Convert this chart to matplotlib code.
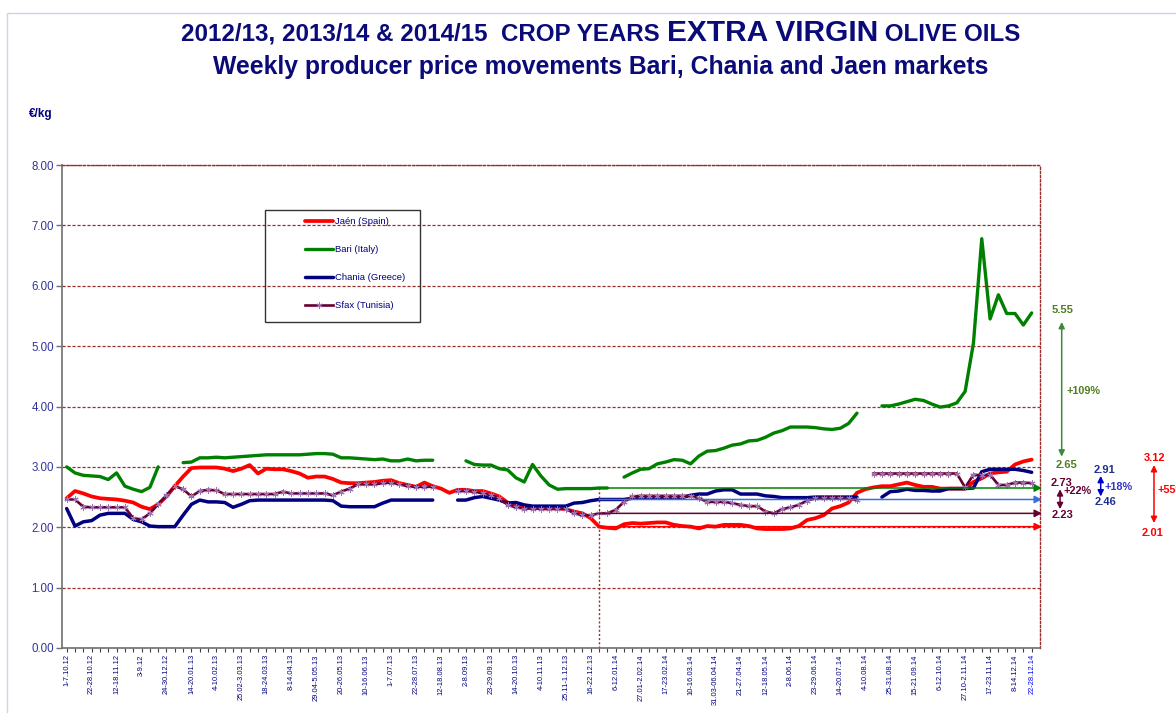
import matplotlib
matplotlib.use("Agg")
import matplotlib.pyplot as plt
import matplotlib.transforms as mtransforms
from matplotlib.offsetbox import TextArea, HPacker, AnnotationBbox
from matplotlib.patches import Rectangle
import numpy as np

plt.rcParams['font.family'] = ['Liberation Sans', 'DejaVu Sans']

NAVY = '#000080'
TITLE_COLOR = '#0A0A78'
GRID_COLOR = '#9B2C2C'

# weekly producer prices (EUR/kg), week 0 = 1-7.10.12 ... week 116 = 22-28.12.14
# None = no quotation that week
jaen = [2.48, 2.60, 2.56, 2.51, 2.48, 2.47, 2.46, 2.44, 2.41, 2.34,
        2.30, 2.38, 2.51, 2.68, 2.84, 2.98, 2.99, 2.99, 2.99, 2.97,
        2.93, 2.97, 3.03, 2.89, 2.97, 2.96, 2.96, 2.93, 2.89, 2.82,
        2.84, 2.84, 2.80, 2.74, 2.73, 2.73, 2.74, 2.75, 2.77, 2.78,
        2.73, 2.70, 2.67, 2.74, 2.68, 2.64, 2.57, 2.62, 2.62, 2.60,
        2.60, 2.56, 2.51, 2.41, 2.35, 2.33, 2.33, 2.31, 2.31, 2.31,
        2.30, 2.26, 2.23, 2.15, 2.01, 1.99, 1.98, 2.05, 2.07, 2.06,
        2.07, 2.08, 2.08, 2.04, 2.02, 2.01, 1.98, 2.02, 2.01, 2.04,
        2.04, 2.04, 2.02, 1.98, 1.97, 1.97, 1.97, 1.98, 2.02, 2.12,
        2.15, 2.20, 2.31, 2.35, 2.41, 2.57, 2.63, 2.66, 2.68, 2.68,
        2.71, 2.74, 2.70, 2.67, 2.67, 2.64, 2.64, 2.64, 2.64, 2.75,
        2.81, 2.89, 2.91, 2.92, 3.04, 3.09, 3.12]

bari = [3.00, 2.90, 2.86, 2.85, 2.84, 2.79, 2.90, 2.68, 2.63, 2.59,
        2.66, 3.00, None, None, 3.07, 3.08, 3.15, 3.15, 3.16, 3.15,
        3.16, 3.17, 3.18, 3.19, 3.20, 3.20, 3.20, 3.20, 3.20, 3.21,
        3.22, 3.22, 3.21, 3.15, 3.15, 3.14, 3.13, 3.12, 3.13, 3.10,
        3.10, 3.13, 3.10, 3.11, 3.11, None, None, None, 3.10, 3.04,
        3.03, 3.03, 2.97, 2.95, 2.82, 2.75, 3.04, 2.85, 2.70, 2.63,
        2.64, 2.64, 2.64, 2.64, 2.65, 2.65, None, 2.83, 2.90, 2.96,
        2.97, 3.05, 3.08, 3.12, 3.11, 3.05, 3.18, 3.26, 3.27, 3.31,
        3.36, 3.38, 3.43, 3.44, 3.49, 3.56, 3.60, 3.66, 3.66, 3.66,
        3.65, 3.63, 3.62, 3.64, 3.72, 3.89, None, None, 4.01, 4.01,
        4.04, 4.08, 4.12, 4.10, 4.04, 3.99, 4.01, 4.06, 4.25, 5.05,
        6.78, 5.45, 5.85, 5.54, 5.54, 5.35, 5.55]

chania = [2.31, 2.02, 2.09, 2.11, 2.20, 2.23, 2.23, 2.23, 2.13, 2.09,
          2.02, 2.01, 2.01, 2.01, 2.20, 2.38, 2.45, 2.42, 2.42, 2.41,
          2.33, 2.38, 2.44, 2.45, 2.45, 2.45, 2.45, 2.45, 2.45, 2.45,
          2.45, 2.45, 2.44, 2.35, 2.34, 2.34, 2.34, 2.34, 2.40, 2.45,
          2.45, 2.45, 2.45, 2.45, 2.45, None, None, 2.45, 2.45, 2.49,
          2.51, 2.48, 2.45, 2.40, 2.41, 2.37, 2.35, 2.35, 2.35, 2.35,
          2.35, 2.40, 2.41, 2.44, 2.46, 2.46, 2.46, 2.46, 2.48, 2.49,
          2.49, 2.49, 2.49, 2.49, 2.49, 2.53, 2.55, 2.55, 2.60, 2.62,
          2.62, 2.55, 2.55, 2.55, 2.52, 2.51, 2.49, 2.49, 2.49, 2.49,
          2.50, 2.50, 2.50, 2.50, 2.50, 2.50, None, None, 2.50, 2.59,
          2.60, 2.63, 2.61, 2.61, 2.60, 2.60, 2.64, 2.64, 2.64, 2.65,
          2.92, 2.96, 2.96, 2.96, 2.96, 2.94, 2.91]

sfax = [2.46, 2.46, 2.34, 2.33, 2.33, 2.33, 2.33, 2.33, 2.15, 2.13,
        2.23, 2.38, 2.53, 2.68, 2.63, 2.51, 2.60, 2.62, 2.61, 2.55,
        2.55, 2.55, 2.55, 2.55, 2.55, 2.55, 2.59, 2.56, 2.56, 2.56,
        2.56, 2.56, 2.53, 2.59, 2.64, 2.71, 2.71, 2.71, 2.73, 2.74,
        2.71, 2.68, 2.67, 2.67, 2.67, None, None, 2.60, 2.60, 2.59,
        2.56, 2.53, 2.48, 2.37, 2.33, 2.31, 2.31, 2.31, 2.31, 2.31,
        2.31, 2.23, 2.20, 2.20, 2.23, 2.23, 2.29, 2.42, 2.51, 2.52,
        2.52, 2.52, 2.52, 2.52, 2.52, 2.52, 2.48, 2.42, 2.42, 2.42,
        2.40, 2.37, 2.35, 2.35, 2.26, 2.23, 2.30, 2.33, 2.37, 2.44,
        2.48, 2.49, 2.49, 2.49, 2.48, 2.45, None, 2.89, 2.89, 2.89,
        2.89, 2.89, 2.89, 2.89, 2.89, 2.89, 2.89, 2.89, 2.66, 2.87,
        2.86, 2.87, 2.70, 2.70, 2.74, 2.74, 2.73]

series_names = ['Jaén (Spain)', 'Bari (Italy)', 'Chania (Greece)', 'Sfax (Tunisia)']
series_colors = ['#FF0000', '#008000', '#000080', '#660033']
ref_colors = ['#FF0000', '#008000', '#3C6FD8', '#660033']

week_labels = ['1-7.10.12', '22-28.10.12', '12-18.11.12', '3-9.12', '24-30.12.12',
               '14-20.01.13', '4-10.02.13', '25.02-3.03.13', '18-24.03.13', '8-14.04.13',
               '29.04-5.05.13', '20-26.05.13', '10-16.06.13', '1-7.07.13', '22-28.07.13',
               '12-18.08.13', '2-8.09.13', '23-29.09.13', '14-20.10.13', '4-10.11.13',
               '25.11-1.12.13', '16-22.12.13', '6-12.01.14', '27.01-2.02.14', '17-23.02.14',
               '10-16.03.14', '31.03-06.04.14', '21-27.04.14', '12-18.05.14', '2-8.06.14',
               '23-29.06.14', '14-20.07.14', '4-10.08.14', '25-31.08.14', '15-21.09.14',
               '6-12.10.14', '27.10-2.11.14', '17-23.11.14', '8-14.12.14', '22-28.12.14']

# week where the comparison starts (23-29.12.13)
base_week = 64

fig = plt.figure(figsize=(11.76, 7.13), dpi=100)
ax = fig.add_axes([62.5 / 1176, 1 - 648 / 713, 977.5 / 1176, 483 / 713])

weeks = np.arange(len(jaen))
all_series = [jaen, bari, chania, sfax]
widths = [2.7, 2.4, 2.5, 1.9]
handles = []
for vals, name, color, lw in zip(all_series, series_names, series_colors, widths):
    y = np.array(vals, dtype=float)
    if name.startswith('Sfax'):
        ln, = ax.plot(weeks, y, color=color, lw=lw, marker=(6, 2, 0), markersize=4.5,
                      markeredgecolor='#A070B0', markeredgewidth=0.7, label=name)
    else:
        ln, = ax.plot(weeks, y, color=color, lw=lw, solid_capstyle='round', label=name)
    handles.append(ln)

ax.set_xlim(-0.5, 117)
ax.set_ylim(0, 8)

# grid + frame
ax.set_yticks(np.arange(0, 9, 1))
ax.set_yticklabels([f'{v:.2f}' for v in np.arange(0, 9, 1)])
ax.grid(axis='y', color=GRID_COLOR, ls=(0, (2.5, 1.5)), lw=0.9)
ax.set_axisbelow(True)
for side in ['left', 'bottom']:
    ax.spines[side].set_color('#707070')
    ax.spines[side].set_linewidth(1.2)
for side in ['top', 'right']:
    ax.spines[side].set_color(GRID_COLOR)
    ax.spines[side].set_linestyle((0, (1.5, 1.5)))
    ax.spines[side].set_linewidth(1)
ax.vlines(base_week, 0, bari[base_week], colors=GRID_COLOR, linestyles=(0, (1.5, 1.5)), lw=1)

ax.tick_params(axis='y', direction='out', length=4, width=1, color='#707070',
               labelsize=8.3, labelcolor='#333399', pad=2)
label_weeks = list(range(0, 115, 3)) + [116]
ax.set_xticks(label_weeks)
ax.set_xticklabels(week_labels, rotation=90, fontsize=5.4, color=NAVY, va='top')
ax.xaxis.get_ticklabels()[-1].set_color('#0000FF')
ax.set_xticks(weeks, minor=True)
ax.tick_params(axis='x', which='both', direction='out', length=3, width=0.8,
               color='#404040', pad=1.5)

# legend: contents from matplotlib, frame drawn as a plain box
ax.legend(handles, series_names, loc='upper left', bbox_to_anchor=(0.2477, 0.892),
          frameon=False, fontsize=6.8, handlelength=3.0, handletextpad=0.25,
          labelspacing=2.0, borderpad=0, borderaxespad=0, labelcolor=NAVY, numpoints=1)
ax.add_patch(Rectangle((0.2068, 0.675), 0.1586, 0.2318, transform=ax.transAxes,
                       fill=False, edgecolor='#333333', lw=1, zorder=5))

# reference levels at the base week, with arrows to the right edge
for vals, color in zip(all_series, ref_colors):
    ax.annotate('', xy=(117.24, vals[base_week]), xytext=(base_week, vals[base_week]),
                arrowprops=dict(arrowstyle='-|>', color=color, lw=1.1, mutation_scale=11,
                                shrinkA=0, shrinkB=0),
                annotation_clip=False)

# change annotations to the right of the plot
trans = mtransforms.blended_transform_factory(ax.transAxes, ax.transData)
notes = [
    # series, text colour, arrow colour, x arrow, y top, y bottom, (x,y) end, (x,y) pct, (x,y) start
    (bari, '#4F7F1F', '#3A8A3A', 1.0222, 5.40, 3.17, (1.0235, 5.60), (1.0276, 4.26), (1.0276, 3.03)),
    (sfax, '#660033', '#660033', 1.0205, 2.63, 2.30, (1.0225, 2.74), (1.0245, 2.60), (1.0235, 2.20)),
    (chania, '#1F2F8F', '#0000CC', 1.0621, 2.85, 2.51, (1.0655, 2.94), (1.0655, 2.67), (1.0665, 2.41)),
    (jaen, '#FF0000', '#FF0000', 1.1166, 3.03, 2.07, (1.1177, 3.15), (1.1207, 2.61), (1.1156, 1.90)),
]
for vals, tcol, acol, xa, ytop, ybot, p_end, p_pct, p_start in notes:
    start, end = vals[base_week], vals[-1]
    pct = round((end / start - 1) * 100)
    ax.annotate('', xy=(xa, ytop), xytext=(xa, ybot), xycoords=trans, textcoords=trans,
                arrowprops=dict(arrowstyle='<|-|>', color=acol, lw=1.1, mutation_scale=9,
                                shrinkA=0, shrinkB=0),
                annotation_clip=False)
    ax.text(*p_end, f'{end:.2f}', transform=trans, ha='center', va='center',
            fontsize=8, fontweight='bold', color=tcol, clip_on=False)
    ax.text(*p_start, f'{start:.2f}', transform=trans, ha='center', va='center',
            fontsize=8, fontweight='bold', color=tcol, clip_on=False)
    pct_col = '#3333CC' if vals is chania else tcol
    ax.text(*p_pct, f'+{pct}%', transform=trans, ha='left', va='center',
            fontsize=7.8, fontweight='bold', color=pct_col, clip_on=False)

# titles
tprops = dict(size=17.4, weight='bold', color=TITLE_COLOR)
bigprops = dict(size=21.5, weight='bold', color=TITLE_COLOR)
line1 = HPacker(children=[TextArea('2012/13, 2013/14 & 2014/15  CROP YEARS ', textprops=tprops),
                          TextArea('EXTRA VIRGIN', textprops=bigprops),
                          TextArea(' OLIVE OILS', textprops=tprops)],
                align='baseline', pad=0, sep=0)
fig.add_artist(AnnotationBbox(line1, (601 / 1176, 1 - 33 / 713), xycoords='figure fraction',
                              frameon=False, box_alignment=(0.5, 0.5)))
fig.text(601 / 1176, 1 - 67 / 713, 'Weekly producer price movements Bari, Chania and Jaen markets',
         ha='center', va='center', fontsize=17.8, fontweight='bold', color=TITLE_COLOR)
fig.text(41 / 1176, 1 - 114 / 713, '€/kg', ha='center', va='center', fontsize=8.5,
         fontweight='bold', color=NAVY)

# light outer chart border
fig.patches.append(Rectangle((7 / 1176, -0.1), 1.2, 1 - 13 / 713 + 0.1, transform=fig.transFigure,
                             fill=False, edgecolor='#C9D5E8', lw=1))

fig.savefig('out.png', dpi=100)
